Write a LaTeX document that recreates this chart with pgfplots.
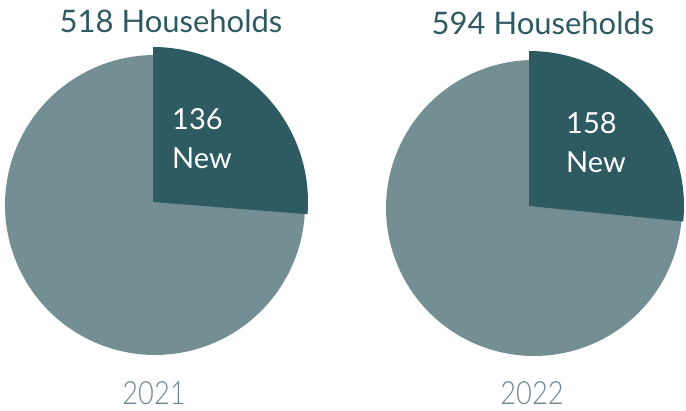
\documentclass[border=0pt]{standalone}
\usepackage{pgfplots}
\pgfplotsset{compat=1.18}
\usepackage{fontspec}
\setmainfont{Lato}
\newfontfamily\yearfont{Lato Light}[FakeStretch=0.85]
\definecolor{darkteal}{HTML}{2E5A62}
\definecolor{slate}{HTML}{748F94}
\definecolor{yeargray}{HTML}{6E8790}
% data: new households, total households
\def\newA{136}\def\totA{518}
\def\newB{158}\def\totB{594}
\pgfmathsetmacro\angA{\newA/\totA*360}
\pgfmathsetmacro\angB{\newB/\totB*360}
\begin{document}
\begin{tikzpicture}
\begin{axis}[at={(0,0)},anchor=south west,width=686pt,height=411pt,scale only axis,
  xmin=0,xmax=686,ymin=0,ymax=411,hide axis,clip=true]
% 2021
\addplot[draw=none,fill=slate,domain=0:360,samples=180,variable=\t]
  ({155+150*cos(t)},{206+150*sin(t)}) -- cycle;
\addplot[draw=none,fill=darkteal,domain={90-\angA}:90,samples=80,variable=\t]
  ({153+155*cos(t)},{209+155*sin(t)}) -- (axis cs:153,209) -- cycle;
% 2022
\addplot[draw=none,fill=slate,domain=0:360,samples=180,variable=\t]
  ({534+148*cos(t)},{203+148*sin(t)}) -- cycle;
\addplot[draw=none,fill=darkteal,domain={90-\angB}:90,samples=80,variable=\t]
  ({529+155*cos(t)},{205+155*sin(t)}) -- (axis cs:529,205) -- cycle;
% labels
\node[text=darkteal,inner sep=0pt,font=\fontsize{31}{33}\selectfont,anchor=base] at (axis cs:171,378) {\totA{} Households};
\node[text=darkteal,inner sep=0pt,font=\fontsize{31}{33}\selectfont,anchor=base] at (axis cs:543,376) {\totB{} Households};
\node[text=white,inner sep=0pt,font=\fontsize{29}{39}\selectfont,align=left,anchor=north west] at (axis cs:172,303) {\newA\\New};
\node[text=white,inner sep=0pt,font=\fontsize{29}{39}\selectfont,align=left,anchor=north west] at (axis cs:566,299) {\newB\\New};
\node[text=yeargray,inner sep=0pt,font=\yearfont\fontsize{32}{34}\selectfont,anchor=base] at (axis cs:154,6) {2021};
\node[text=yeargray,inner sep=0pt,font=\yearfont\fontsize{32}{34}\selectfont,anchor=base] at (axis cs:532,6) {2022};
\end{axis}
\pgfresetboundingbox
\path[use as bounding box] (0,0) rectangle (686pt,411pt);
\end{tikzpicture}
\end{document}
